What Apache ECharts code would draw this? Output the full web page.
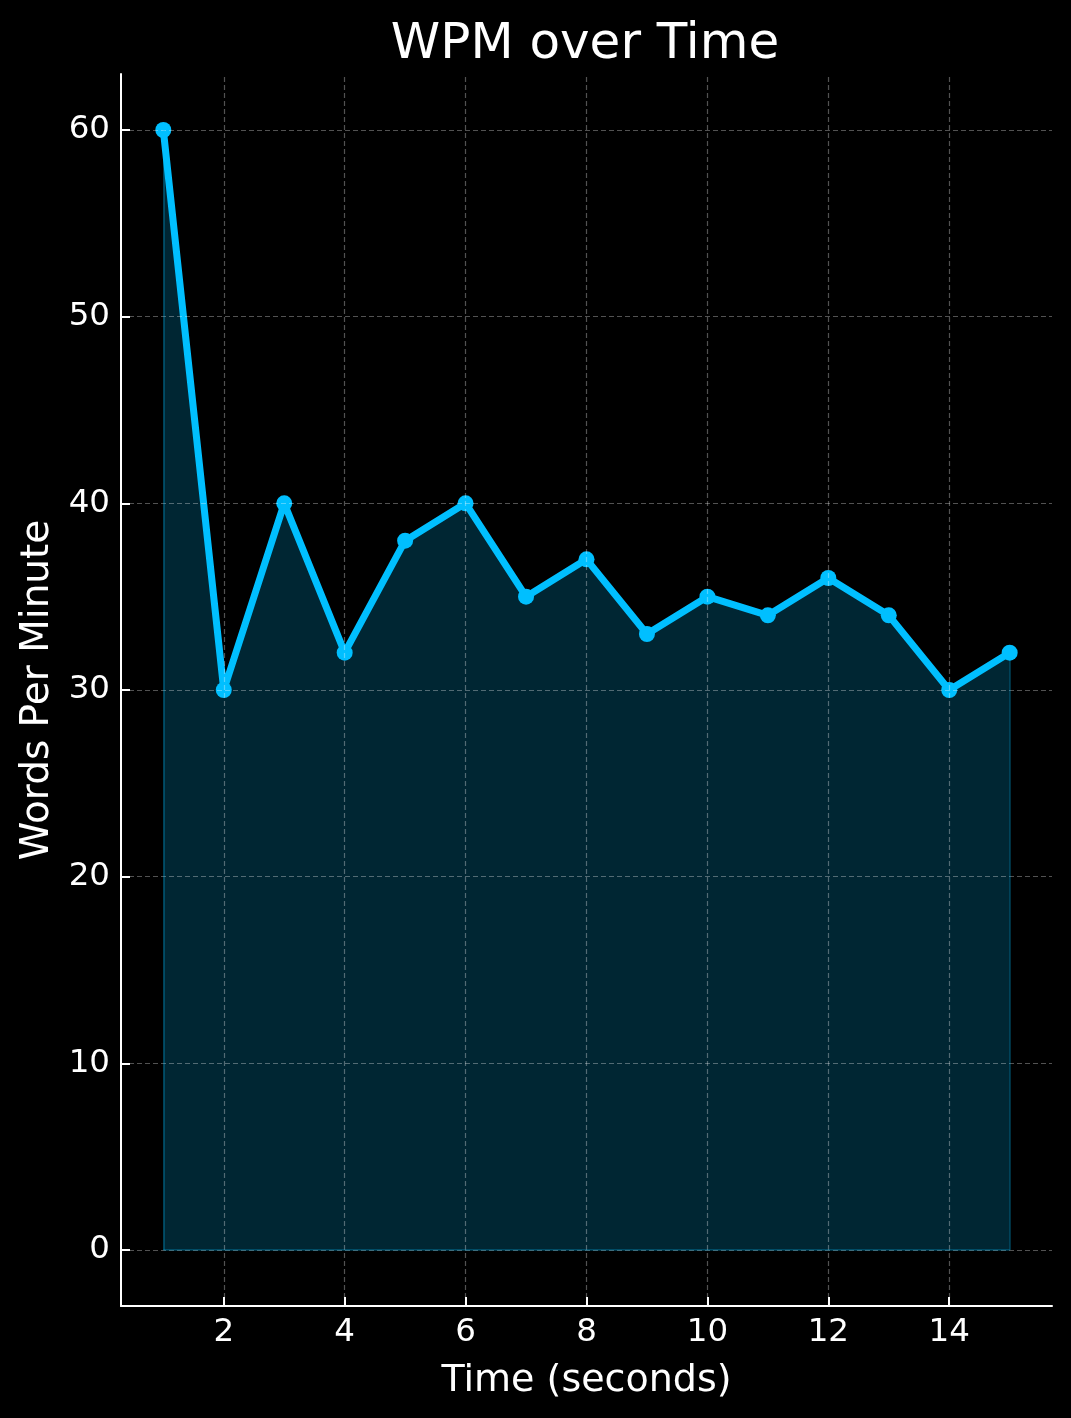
<!DOCTYPE html>
<html>
<head>
<meta charset="utf-8">
<script src="https://cdn.jsdelivr.net/npm/echarts@6/dist/echarts.min.js"></script>
<style>
  html, body { margin: 0; padding: 0; background: #000; }
  #main { width: 1071px; height: 1418px; }
</style>
</head>
<body>
<div id="main"></div>
<script>
// data
var seconds = [1, 2, 3, 4, 5, 6, 7, 8, 9, 10, 11, 12, 13, 14, 15];
var wpm = [60, 30, 40, 32, 38, 40, 35, 37, 33, 35, 34, 36, 34, 30, 32];
var xTicks = [2, 4, 6, 8, 10, 12, 14];
var yTicks = [0, 10, 20, 30, 40, 50, 60];

var font = 'DejaVu Sans';
var gridStyle = { color: 'rgba(255,255,255,0.32)', width: 1.2, type: [5, 3] };
var edgeStyle = { color: 'rgba(0,191,255,0.25)', width: 2, type: 'solid' };

var points = seconds.map(function (s, i) { return [s, wpm[i]]; });
var last = seconds.length - 1;

var gridLines = xTicks.map(function (v) { return { xAxis: v }; })
  .concat(yTicks.map(function (v) { return { yAxis: v }; }));

var myChart = echarts.init(document.getElementById('main'));

var option = {
  backgroundColor: '#000',
  animation: false,
  title: {
    text: 'WPM over Time',
    left: 580,
    top: 15,
    textAlign: 'center',
    textStyle: { color: '#fff', fontFamily: font, fontSize: 50, fontWeight: 'normal' }
  },
  grid: { left: 121, right: 19, top: 74, bottom: 112, containLabel: false },
  xAxis: {
    type: 'value',
    min: 0.3,
    max: 15.7,
    name: 'Time (seconds)',
    nameLocation: 'middle',
    nameGap: 56,
    nameTextStyle: { color: '#fff', fontFamily: font, fontSize: 38 },
    splitLine: { show: false },
    axisLine: { onZero: false, lineStyle: { color: '#fff', width: 2 } },
    axisTick: { inside: true, length: 9, customValues: xTicks, lineStyle: { color: '#fff', width: 2 } },
    axisLabel: { customValues: xTicks, margin: 10, color: '#fff', fontFamily: font, fontSize: 32.5 }
  },
  yAxis: {
    type: 'value',
    min: -3,
    max: 63,
    name: 'Words Per Minute',
    nameLocation: 'middle',
    nameGap: 63,
    nameTextStyle: { color: '#fff', fontFamily: font, fontSize: 39 },
    splitLine: { show: false },
    axisLine: { show: true, onZero: false, lineStyle: { color: '#fff', width: 2 } },
    axisTick: { show: true, inside: true, length: 9, customValues: yTicks, lineStyle: { color: '#fff', width: 2 } },
    axisLabel: { customValues: yTicks, margin: 11, color: '#fff', fontFamily: font, fontSize: 32.5 }
  },
  series: [
    {
      // grid lines behind everything
      type: 'line',
      z: 1,
      data: [[seconds[0], 0]],
      symbol: 'none',
      lineStyle: { opacity: 0 },
      silent: true,
      markLine: {
        silent: true,
        symbol: 'none',
        label: { show: false },
        lineStyle: gridStyle,
        data: gridLines
      }
    },
    {
      name: 'WPM',
      type: 'line',
      z: 3,
      data: points,
      symbol: 'circle',
      symbolSize: 16,
      itemStyle: { color: '#00BFFF' },
      lineStyle: { color: '#00BFFF', width: 7 },
      areaStyle: { color: 'rgba(0,191,255,0.2)', opacity: 1, origin: 0 },
      markLine: {
        silent: true,
        symbol: 'none',
        label: { show: false },
        lineStyle: edgeStyle,
        data: [
          [{ coord: [seconds[0], 0] }, { coord: [seconds[0], wpm[0]] }],
          [{ coord: [seconds[0], 0] }, { coord: [seconds[last], 0] }],
          [{ coord: [seconds[last], 0] }, { coord: [seconds[last], wpm[last]] }]
        ]
      }
    }
  ]
};

myChart.setOption(option);
</script>
</body>
</html>
